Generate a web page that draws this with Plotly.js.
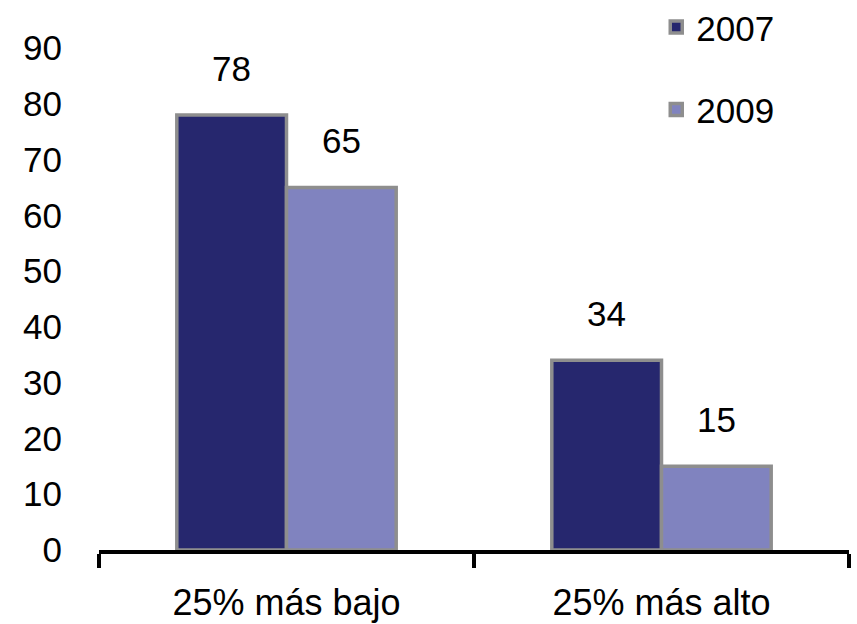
<!DOCTYPE html>
<html>
<head>
<meta charset="utf-8">
<script src="https://cdn.plot.ly/plotly-3.0.1.min.js"></script>
<style>html,body{margin:0;padding:0;background:#fff;}#chart{width:857px;height:624px;}</style>
</head>
<body>
<div id="chart"></div>
<script>
const categories = ["25% más bajo", "25% más alto"];
const seriesNames = ["2007", "2009"];
const values2007 = [78, 34];
const values2009 = [65, 15];
const yTicks = [0, 10, 20, 30, 40, 50, 60, 70, 80, 90];

const font = "Liberation Sans, Arial, sans-serif";
const colors = ["#26276e", "#8083bf"];

const traces = [values2007, values2009].map((vals, i) => ({
  type: "bar",
  name: seriesNames[i],
  legendgroup: "g" + i,
  x: categories,
  y: vals,
  marker: {color: colors[i], line: {color: "#8e8e8e", width: 3.5}},
  hoverinfo: "skip"
}));

const annotations = [];
[values2007, values2009].forEach((vals, i) => {
  vals.forEach((v, j) => {
    annotations.push({
      x: categories[j], y: v, xref: "x", yref: "y",
      text: String(v), showarrow: false,
      xshift: i === 0 ? -55 : 55, yanchor: "bottom", yshift: 25,
      font: {family: font, size: 35, color: "#000"}
    });
  });
});

const layout = {
  width: 857, height: 624,
  margin: {l: 99, r: 8, t: 48, b: 74, autoexpand: false},
  paper_bgcolor: "#fff", plot_bgcolor: "#fff",
  barmode: "group", bargap: 0.415, bargroupgap: 0,
  showlegend: true,
  legend: {
    x: 0.743, xanchor: "left", y: 1.10, yanchor: "top",
    font: {family: font, size: 35, color: "#000"},
    tracegroupgap: 34, bgcolor: "rgba(0,0,0,0)"
  },
  xaxis: {
    type: "category", automargin: false,
    showline: true, linecolor: "#000", linewidth: 3.5,
    ticks: "outside", tickson: "boundaries", ticklen: 14, tickwidth: 3.5, tickcolor: "#000",
    tickfont: {family: font, size: 36, color: "#000"},
    ticklabelstandoff: 18,
    showgrid: false, zeroline: false
  },
  yaxis: {
    range: [0, 90], tickvals: yTicks, automargin: false,
    showline: false, showgrid: false, zeroline: false,
    tickfont: {family: font, size: 35, color: "#000"},
    ticklabelstandoff: 36
  },
  annotations: annotations
};

Plotly.newPlot("chart", traces, layout, {displayModeBar: false, staticPlot: true});
</script>
</body>
</html>
